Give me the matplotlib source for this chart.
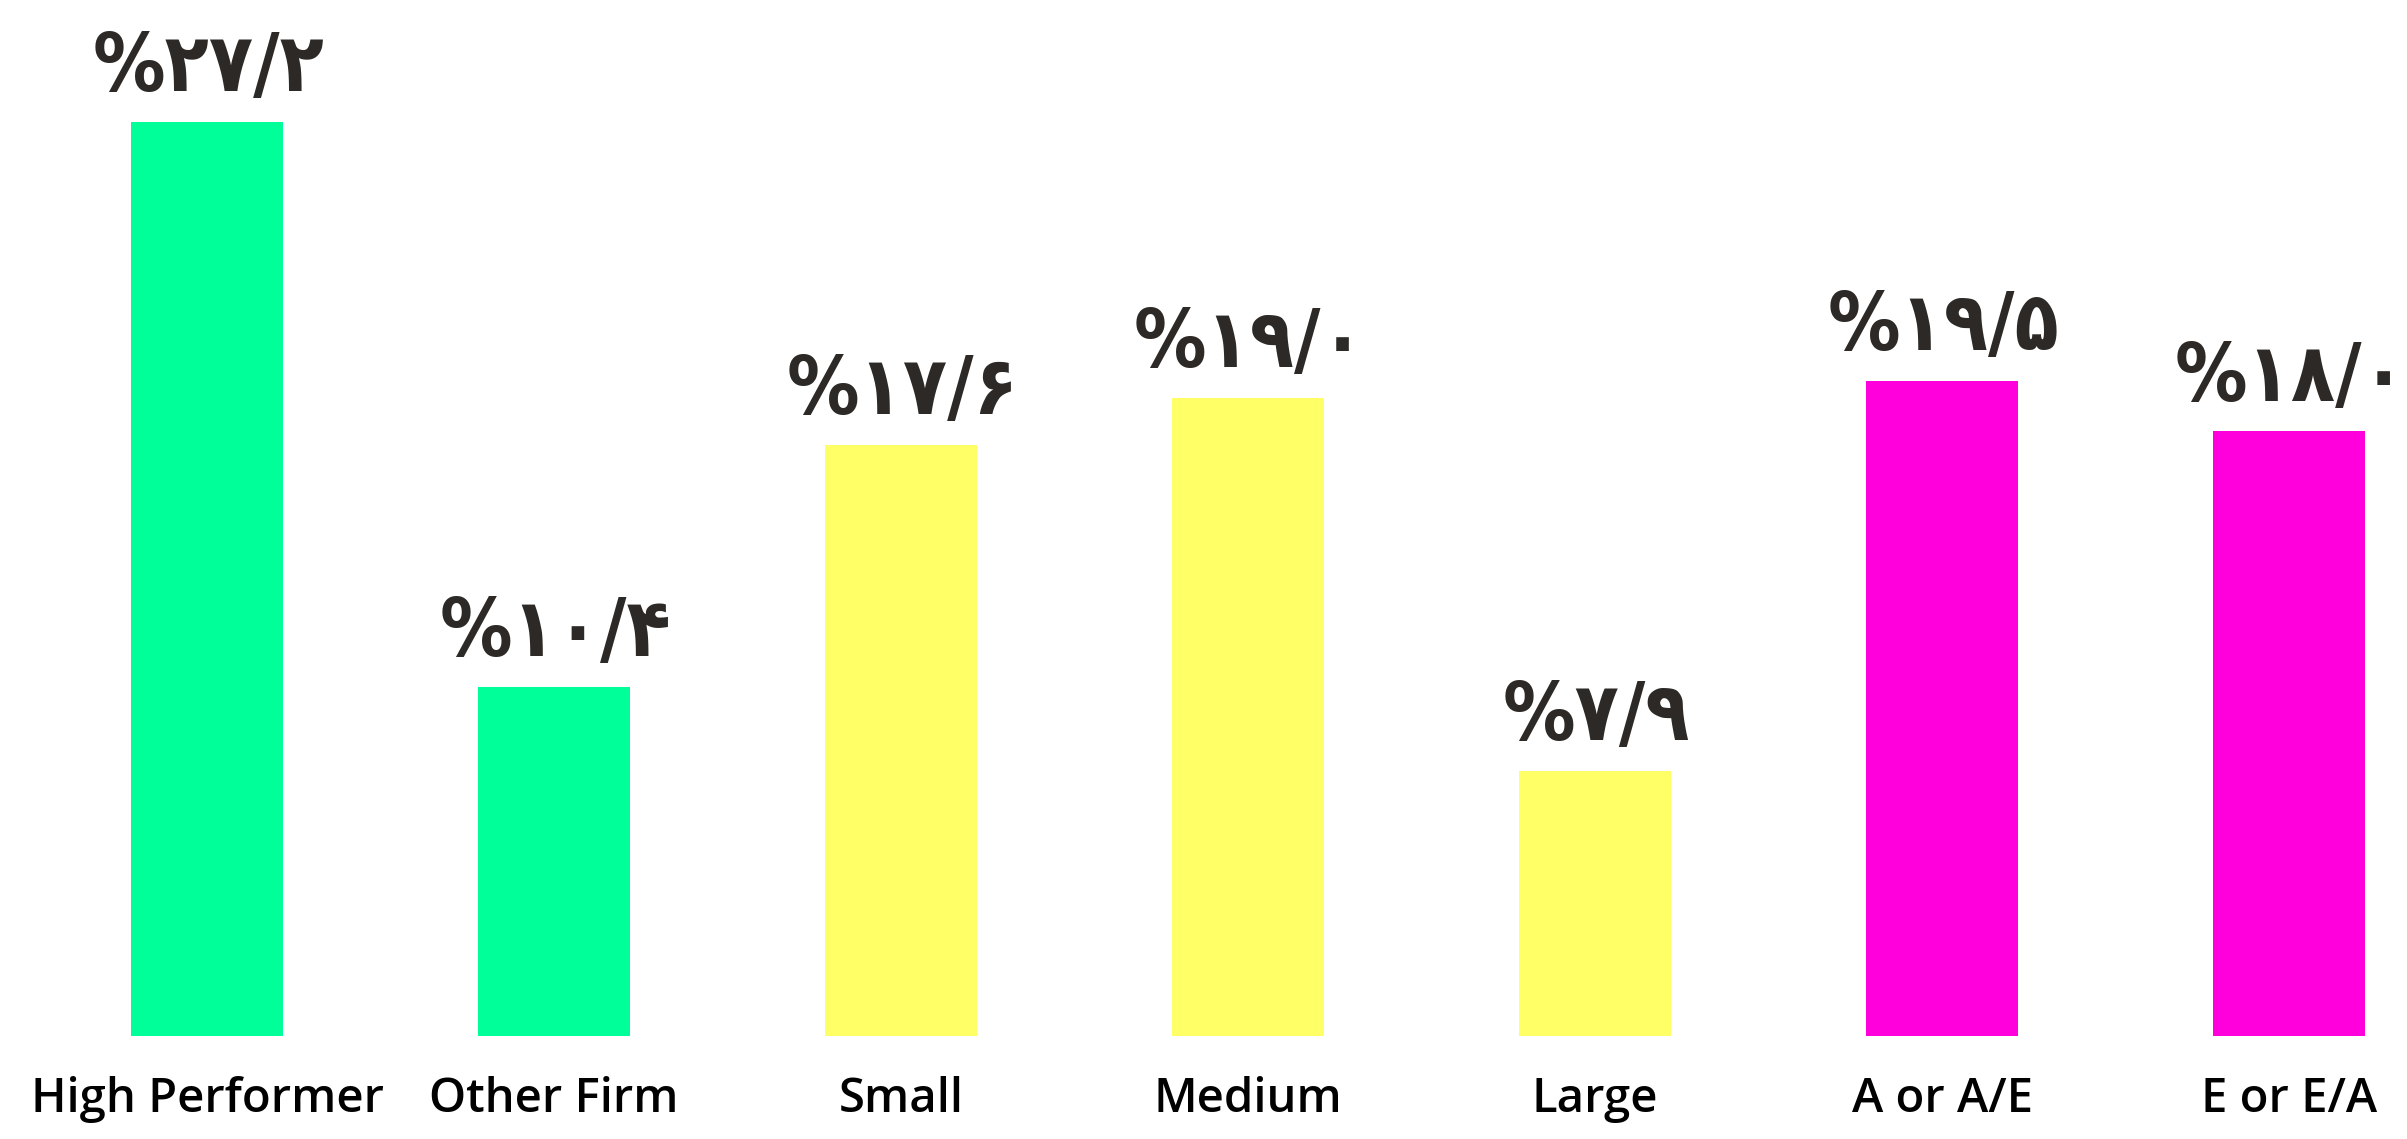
import matplotlib
matplotlib.use("Agg")
import matplotlib.pyplot as plt

categories = ["High Performer", "Other Firm", "Small", "Medium", "Large", "A or A/E", "E or E/A"]
values = [27.2, 10.4, 17.6, 19.0, 7.9, 19.5, 18.0]
value_labels = ["%۲۷/۲", "%۱۰/۴", "%۱۷/۶", "%۱۹/۰", "%۷/۹", "%۱۹/۵", "%۱۸/۰"]
colors = ["#00FF99", "#00FF99", "#FFFF66", "#FFFF66", "#FFFF66", "#FF00DD", "#FF00DD"]

W, H = 2407, 1139
fig = plt.figure(figsize=(W / 100, H / 100), dpi=100)
ax = fig.add_axes([0, 103 / H, 1, 1036 / H])
x = list(range(len(categories)))
ax.bar(x, values, width=0.438, color=colors)
ax.set_xlim(-0.597, 6.34)
ax.set_ylim(0, 30.83)
for s in ax.spines.values():
    s.set_visible(False)
ax.set_yticks([])
ax.set_xticks(x)
ax.set_xticklabels(categories, fontfamily="Open Sans", fontweight="semibold", fontsize=34, color="black")
ax.tick_params(axis="x", length=0, pad=29)

for xi, v, lab in zip(x, values, value_labels):
    ax.annotate(lab, (xi, v), xytext=(1, 22), textcoords="offset points",
                ha="center", va="baseline", fontsize=58, fontweight="bold",
                fontstretch="condensed", family="DejaVu Sans", color="#2d2926")

fig.savefig("out.png", dpi=100, facecolor="white")
